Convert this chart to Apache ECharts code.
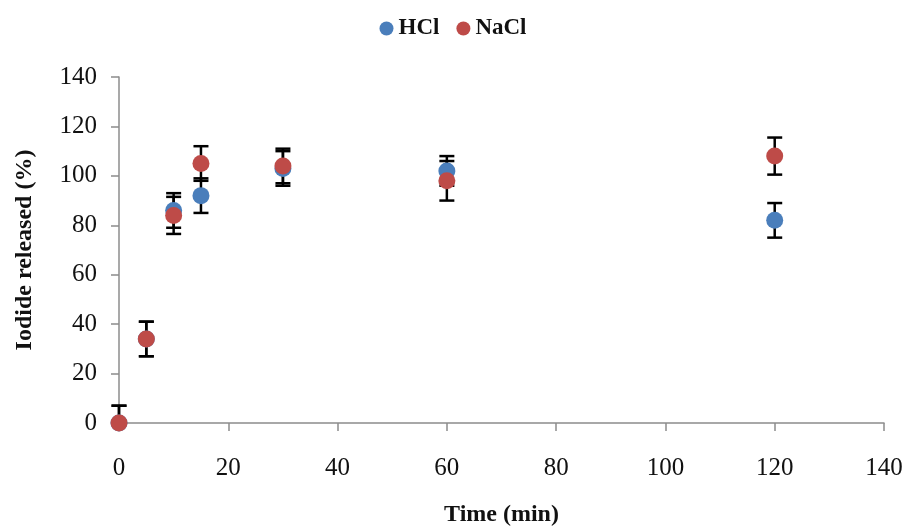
<!DOCTYPE html>
<html>
<head>
<meta charset="utf-8">
<script src="https://cdn.jsdelivr.net/npm/echarts@6/dist/echarts.min.js"></script>
<style>
html,body{margin:0;padding:0;background:#fff;}
#chart{width:906px;height:527px;}
</style>
</head>
<body>
<div id="chart"></div>
<script>
var times = [0, 5, 10, 15, 30, 60, 120];
var hclValues = [0, 34, 86, 92, 103, 102, 82];
var hclErrors = [7, 7, 7, 7, 7, 6, 7];
var naclValues = [0, 34, 84, 105, 104, 98, 108];
var naclErrors = [7, 7, 7.5, 7, 7, 8, 7.5];
var xTicks = [0, 20, 40, 60, 80, 100, 120, 140];
var yTicks = [0, 20, 40, 60, 80, 100, 120, 140];

var FONT = '"Liberation Serif", "Times New Roman", serif';
var chart = echarts.init(document.getElementById('chart'));

function pts(vals) { return times.map(function (t, i) { return [t, vals[i]]; }); }
function errData(vals, errs) { return times.map(function (t, i) { return [t, vals[i] - errs[i], vals[i] + errs[i]]; }); }

function renderErr(params, api) {
  var x = api.value(0), lo = api.value(1), hi = api.value(2);
  var yMin = yTicks[0];
  var pHi = api.coord([x, hi]);
  var pLo = api.coord([x, Math.max(lo, yMin)]);
  var half = 7.5;
  var style = { stroke: '#000', lineWidth: 2.5 };
  var children = [
    { type: 'line', shape: { x1: pHi[0], y1: pHi[1], x2: pLo[0], y2: pLo[1] }, style: style },
    { type: 'line', shape: { x1: pHi[0] - half, y1: pHi[1], x2: pHi[0] + half, y2: pHi[1] }, style: style }
  ];
  if (lo >= yMin) {
    children.push({ type: 'line', shape: { x1: pLo[0] - half, y1: pLo[1], x2: pLo[0] + half, y2: pLo[1] }, style: style });
  }
  return { type: 'group', children: children };
}

var axisCommon = {
  type: 'value', min: 0, max: 140, interval: 20,
  axisLine: { show: true, lineStyle: { color: '#8c8c8c', width: 1.5 } },
  axisTick: { show: true, length: 8, lineStyle: { color: '#8c8c8c', width: 1.5 } },
  splitLine: { show: false },
  nameTextStyle: { fontFamily: FONT, fontSize: 24, fontWeight: 'bold', color: '#111' }
};

chart.setOption({
  animation: false,
  backgroundColor: '#fff',
  legend: {
    top: 12, left: 'center', icon: 'circle', itemWidth: 14, itemHeight: 14, itemGap: 17,
    data: ['HCl', 'NaCl'],
    textStyle: { fontFamily: FONT, fontSize: 23, fontWeight: 'bold', color: '#111' }
  },
  grid: { left: 119, right: 22, top: 77, bottom: 104, containLabel: false, outerBoundsMode: 'none' },
  xAxis: Object.assign({}, axisCommon, {
    name: 'Time (min)', nameLocation: 'middle', nameGap: 80,
    axisLabel: { margin: 33, fontFamily: FONT, fontSize: 25, color: '#111' }
  }),
  yAxis: Object.assign({}, axisCommon, {
    name: 'Iodide released (%)', nameLocation: 'middle', nameGap: 82,
    axisLabel: { margin: 22, fontFamily: FONT, fontSize: 25, color: '#111' }
  }),
  series: [
    { name: 'HCl err', type: 'custom', renderItem: renderErr, data: errData(hclValues, hclErrors), z: 2, silent: true },
    { name: 'NaCl err', type: 'custom', renderItem: renderErr, data: errData(naclValues, naclErrors), z: 2, silent: true },
    { name: 'HCl', type: 'scatter', data: pts(hclValues), symbol: 'circle', symbolSize: 17,
      itemStyle: { color: '#4a7ebb', opacity: 1 }, z: 3 },
    { name: 'NaCl', type: 'scatter', data: pts(naclValues), symbol: 'circle', symbolSize: 17,
      itemStyle: { color: '#be4b48', opacity: 1 }, z: 4 }
  ]
});
</script>
</body>
</html>
